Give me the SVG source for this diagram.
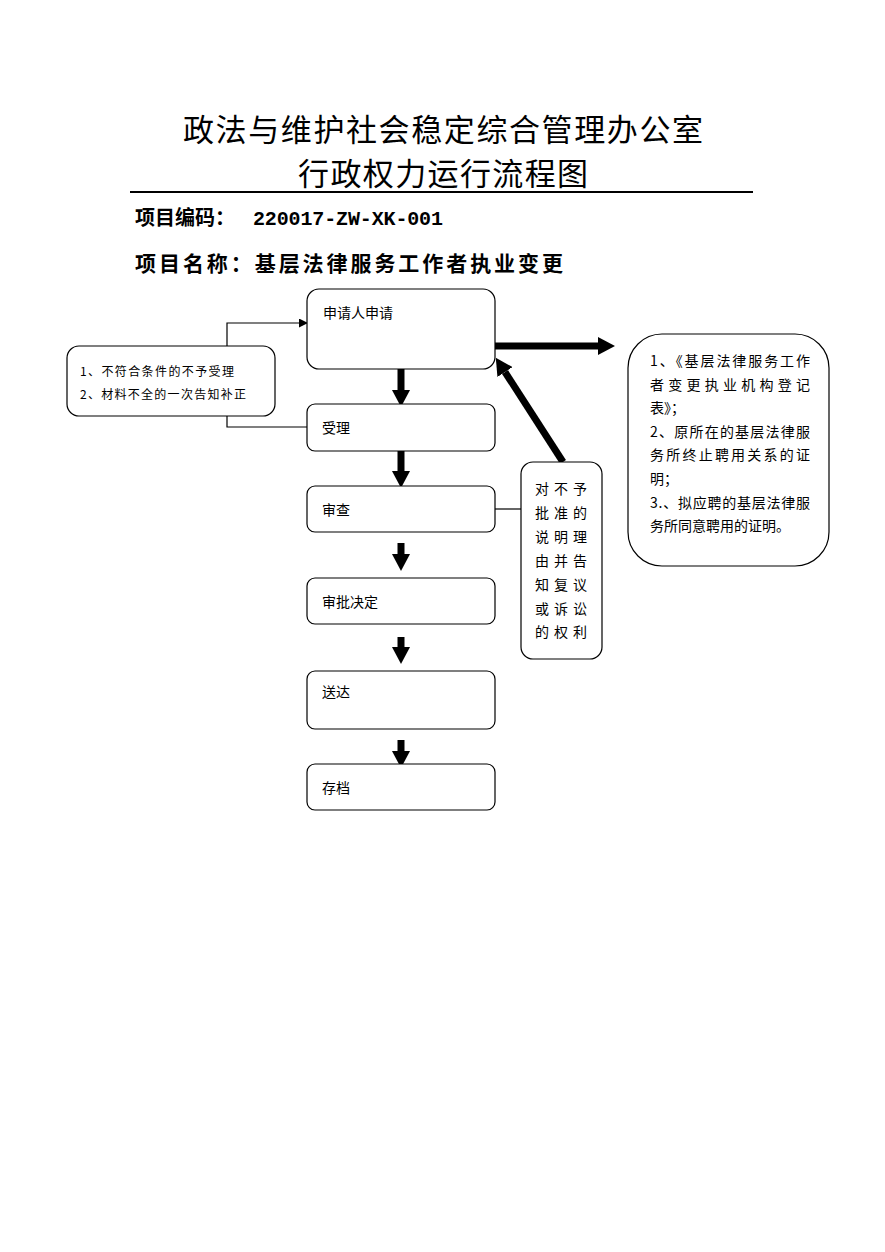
<svg xmlns="http://www.w3.org/2000/svg" width="885" height="1252" viewBox="0 0 885 1252">
<defs>
<style>
.t{font-family:"Noto Sans CJK SC","Liberation Sans",sans-serif;fill:#000}
.box{fill:#fff;stroke:#000;stroke-width:1.2}
.thin{fill:none;stroke:#000;stroke-width:1.2}
.thick{fill:none;stroke:#000;stroke-width:7}
</style>
<marker id="hT" markerUnits="userSpaceOnUse" markerWidth="18" markerHeight="18" refX="0" refY="9" orient="auto"><path d="M0,0 L17,9 L0,18 z" fill="#000"/></marker>
<marker id="hS" markerUnits="userSpaceOnUse" markerWidth="9" markerHeight="9" refX="0" refY="4.5" orient="auto"><path d="M0,0 L9,4.5 L0,9 z" fill="#000"/></marker>
</defs>
<rect width="885" height="1252" fill="#fff"/>
<g id="title">
<text class="t" x="443" y="141" font-size="31" text-anchor="middle" textLength="520" lengthAdjust="spacing">政法与维护社会稳定综合管理办公室</text>
<text class="t" x="443" y="185" font-size="31" text-anchor="middle" textLength="290" lengthAdjust="spacing">行政权力运行流程图</text>
<line x1="130" y1="192" x2="753" y2="192" stroke="#000" stroke-width="2"/>
<text class="t" x="135" y="225" font-size="20" font-weight="bold">项目编码：</text>
<text x="253" y="225" font-size="20" font-weight="bold" font-family="Liberation Mono,monospace" textLength="190" lengthAdjust="spacing">220017-ZW-XK-001</text>
<text class="t" x="135" y="271" font-size="21" font-weight="bold" textLength="428" lengthAdjust="spacing">项目名称：基层法律服务工作者执业变更</text>
</g>
<g id="connectors">
<path class="thin" d="M227,346 V323 H298"/>
<path class="thin" d="M298,323 H299" marker-end="url(#hS)"/>
<path class="thin" d="M227,416 V427 H307"/>
<line class="thin" x1="495" y1="509" x2="521" y2="509"/>
<line class="thick" x1="401" y1="369" x2="401" y2="390" marker-end="url(#hT)"/>
<line class="thick" x1="401" y1="451" x2="401" y2="471" marker-end="url(#hT)"/>
<line class="thick" x1="401" y1="543" x2="401" y2="554" marker-end="url(#hT)"/>
<line class="thick" x1="401" y1="637" x2="401" y2="647" marker-end="url(#hT)"/>
<line class="thick" x1="401" y1="740" x2="401" y2="751" marker-end="url(#hT)"/>
<line class="thick" x1="495" y1="346" x2="598" y2="346" marker-end="url(#hT)"/>
<line class="thick" x1="563" y1="462" x2="505" y2="372" marker-end="url(#hT)"/>
</g>
<g id="n1"><rect class="box" x="307" y="289" width="188" height="80" rx="12"/><text class="t" x="323" y="318" font-size="14">申请人申请</text></g>
<g id="n2"><rect class="box" x="307" y="404" width="188" height="47" rx="8"/><text class="t" x="322" y="433" font-size="14">受理</text></g>
<g id="n3"><rect class="box" x="307" y="486" width="188" height="46" rx="8"/><text class="t" x="322" y="515" font-size="14">审查</text></g>
<g id="n4"><rect class="box" x="307" y="578" width="188" height="46" rx="8"/><text class="t" x="322" y="607" font-size="14">审批决定</text></g>
<g id="n5"><rect class="box" x="307" y="671" width="188" height="58" rx="8"/><text class="t" x="322" y="697" font-size="14">送达</text></g>
<g id="n6"><rect class="box" x="307" y="764" width="188" height="46" rx="8"/><text class="t" x="322" y="793" font-size="14">存档</text></g>
<g id="left"><rect class="box" x="67" y="346" width="208" height="70" rx="12"/>
<text class="t" x="80" y="376" font-size="12" textLength="154" lengthAdjust="spacing">1、不符合条件的不予受理</text>
<text class="t" x="80" y="399" font-size="12" textLength="166" lengthAdjust="spacing">2、材料不全的一次告知补正</text></g>
<g id="reason"><rect class="box" x="521" y="462" width="81" height="197" rx="12"/>
<g class="t" font-size="14" letter-spacing="5">
<text x="535" y="494">对不予</text><text x="535" y="518">批准的</text><text x="535" y="542">说明理</text><text x="535" y="566">由并告</text><text x="535" y="590">知复议</text><text x="535" y="614">或诉讼</text><text x="535" y="637">的权利</text></g></g>
<g id="materials"><rect class="box" x="628" y="334" width="201" height="232" rx="34"/>
<g class="t" font-size="14">
<text x="650" y="366" textLength="160" lengthAdjust="spacing">1、《基层法律服务工作</text>
<text x="650" y="390" textLength="160" lengthAdjust="spacing">者变更执业机构登记</text>
<text x="650" y="413">表》；</text>
<text x="650" y="437" textLength="160" lengthAdjust="spacing">2、原所在的基层法律服</text>
<text x="650" y="460" textLength="160" lengthAdjust="spacing">务所终止聘用关系的证</text>
<text x="650" y="484">明；</text>
<text x="650" y="508" textLength="160" lengthAdjust="spacing">3.、拟应聘的基层法律服</text>
<text x="650" y="531">务所同意聘用的证明。</text></g></g>
</svg>
